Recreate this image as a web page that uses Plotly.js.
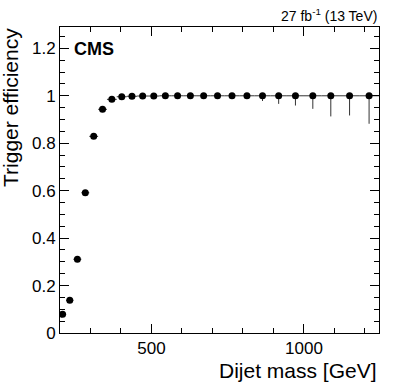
<!DOCTYPE html>
<html lang="en">
<head>
    <meta charset="UTF-8">
    <title>Trigger efficiency</title>
    <script src="https://cdn.plot.ly/plotly-3.0.1.min.js"></script>
    <style>
        body { margin: 0; padding: 0; background: white; }
        #plot { width: 399px; height: 383px; }
    </style>
</head>
<body>
    <div id="plot"></div>
    <script>
        // dijet mass bin edges (GeV)
        const binEdges = [197, 220, 244, 270, 296, 325, 354, 386, 419, 453, 489, 526, 565, 606,
            649, 693, 740, 788, 838, 890, 944, 1000, 1058, 1118, 1181, 1246];
        const efficiency = [0.079, 0.138, 0.311, 0.591, 0.829, 0.943, 0.985, 0.996, 0.998, 0.999,
            0.999, 1.0, 1.0, 1.0, 1.0, 1.0, 1.0, 1.0, 1.0, 1.0, 1.0, 1.0, 1.0, 1.0, 1.0];
        const errLow = [0.004, 0.005, 0.006, 0.006, 0.005, 0.004, 0.003, 0.002, 0.002, 0.002,
            0.002, 0.002, 0.003, 0.003, 0.004, 0.005, 0.006, 0.008, 0.022, 0.034, 0.041, 0.055,
            0.087, 0.083, 0.118];
        const errHigh = [0.004, 0.005, 0.006, 0.006, 0.005, 0.004, 0.003, 0.002, 0.001, 0.001,
            0.001, 0, 0, 0, 0, 0, 0, 0, 0, 0, 0, 0, 0, 0, 0];
        const xRange = [200, 1246];
        const yRange = [0, 1.29];

        const centers = [];
        const halfWidths = [];
        for (let i = 0; i < binEdges.length - 1; i++) {
            centers.push((binEdges[i] + binEdges[i + 1]) / 2);
            halfWidths.push((binEdges[i + 1] - binEdges[i]) / 2);
        }

        const font = 'Liberation Sans, Arial, sans-serif';

        const traces = [
            {
                x: centers,
                y: efficiency,
                type: 'scatter',
                mode: 'markers',
                marker: {color: 'black', size: 7},
                error_x: {type: 'data', array: halfWidths, width: 0, thickness: 1, color: '#333'},
                error_y: {type: 'data', symmetric: false, array: errHigh, arrayminus: errLow,
                    width: 0, thickness: 1, color: '#333'}
            },
            // empty trace so the mirrored axes (top / right) get drawn
            {x: [], y: [], type: 'scatter', mode: 'markers', xaxis: 'x2', yaxis: 'y2'}
        ];

        const axisCommon = {
            showgrid: false,
            zeroline: false,
            showline: true,
            linecolor: 'black',
            linewidth: 1,
            ticks: 'inside',
            ticklen: 9,
            tickcolor: 'black',
            tickfont: {family: font, size: 17, color: 'black'}
        };
        const xTicks = {
            tickvals: [500, 1000],
            ticktext: ['500', '1000'],
            minor: {dtick: 100, tick0: 0, ticks: 'inside', ticklen: 5, tickcolor: 'black'}
        };
        const yTicks = {
            dtick: 0.2,
            tick0: 0,
            minor: {dtick: 0.05, tick0: 0, ticks: 'inside', ticklen: 5, tickcolor: 'black'}
        };

        const layout = {
            width: 399,
            height: 383,
            margin: {l: 60, r: 20, t: 27, b: 50},
            paper_bgcolor: 'white',
            plot_bgcolor: 'white',
            showlegend: false,
            xaxis: Object.assign({}, axisCommon, xTicks, {range: xRange}),
            yaxis: Object.assign({}, axisCommon, yTicks, {range: yRange}),
            xaxis2: Object.assign({}, axisCommon, xTicks, {
                range: xRange, overlaying: 'x', side: 'top', showticklabels: false
            }),
            yaxis2: Object.assign({}, axisCommon, yTicks, {
                range: yRange, overlaying: 'y', side: 'right', showticklabels: false
            }),
            annotations: [
                {text: 'Dijet mass [GeV]', xref: 'paper', yref: 'paper', x: 1, y: 0,
                    xanchor: 'right', yanchor: 'top', yshift: -24, showarrow: false,
                    font: {family: font, size: 21, color: 'black'}},
                {text: 'Trigger efficiency', xref: 'paper', yref: 'paper', x: 0, y: 1,
                    xanchor: 'right', yanchor: 'top', xshift: -36, yshift: 1, textangle: -90,
                    showarrow: false, font: {family: font, size: 21, color: 'black'}},
                {text: '<b>CMS</b>', xref: 'paper', yref: 'paper', x: 0, y: 1,
                    xanchor: 'left', yanchor: 'top', xshift: 12, yshift: -10, showarrow: false,
                    font: {family: font, size: 18, color: 'black'}},
                {text: '27 fb<sup>-1</sup> (13 TeV)', xref: 'paper', yref: 'paper', x: 1, y: 1,
                    xanchor: 'right', yanchor: 'bottom', yshift: 1, showarrow: false,
                    font: {family: font, size: 14, color: 'black'}}
            ]
        };

        Plotly.newPlot('plot', traces, layout, {displayModeBar: false, staticPlot: true});
    </script>
</body>
</html>
